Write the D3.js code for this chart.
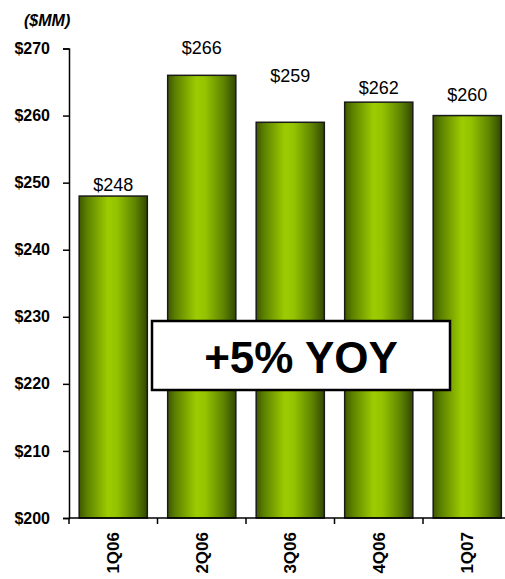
<!DOCTYPE html>
<html>
<head>
<meta charset="utf-8">
<script src="https://cdn.jsdelivr.net/npm/d3@7"></script>
<style>
  html, body { margin: 0; padding: 0; background: #fff; }
  svg { display: block; }
</style>
</head>
<body>
<svg id="chart" width="505" height="579"></svg>
<script>
// Quarterly revenue, $MM
const quarters = ["1Q06", "2Q06", "3Q06", "4Q06", "1Q07"];
const revenue = [248, 266, 259, 262, 260];
const yTicks = [200, 210, 220, 230, 240, 250, 260, 270];
const unitLabel = "($MM)";
const callout = "+5% YOY";

// extra lift (px) for each value label above its bar
const labelLift = [1, 17, 36, 4, 11];

const svg = d3.select("#chart");
const font = "'Liberation Sans', Arial, sans-serif";

const x = d3.scaleBand().domain(quarters).range([69, 511.5]).paddingInner(0.23).paddingOuter(0.115);
const y = d3.scaleLinear().domain([200, 270]).range([518, 48.5]);

// bar fill: cylinder-like horizontal shading
const grad = svg.append("defs").append("linearGradient")
  .attr("id", "barFill").attr("x1", "0%").attr("x2", "100%").attr("y1", "0%").attr("y2", "0%");
[["0%", "#3e5800"], ["12%", "#5d8200"], ["42%", "#9ccc00"], ["55%", "#94c400"], ["82%", "#5e8400"], ["100%", "#324800"]]
  .forEach(([o, c]) => grad.append("stop").attr("offset", o).attr("stop-color", c));

// bars
svg.append("g").selectAll("rect").data(quarters).join("rect")
  .attr("x", d => x(d))
  .attr("y", (d, i) => y(revenue[i]))
  .attr("width", x.bandwidth())
  .attr("height", (d, i) => y(200) - y(revenue[i]))
  .attr("fill", "url(#barFill)")
  .attr("stroke", "#1a1a1a")
  .attr("stroke-width", 1.5);

// value labels
svg.append("g").selectAll("text").data(quarters).join("text")
  .attr("x", d => x(d) + x.bandwidth() / 2)
  .attr("y", (d, i) => y(revenue[i]) - 4 - labelLift[i])
  .attr("text-anchor", "middle")
  .attr("font-family", font)
  .attr("font-size", 18)
  .attr("fill", "#000")
  .text((d, i) => "$" + revenue[i]);

// y axis
const yAxis = svg.append("g").attr("transform", "translate(69,0)")
  .call(d3.axisLeft(y).tickValues(yTicks).tickSize(6).tickPadding(13).tickFormat(d => "$" + d));
yAxis.select(".domain").attr("stroke", "#000").attr("stroke-width", 1.5);
yAxis.selectAll(".tick line").attr("stroke", "#000").attr("stroke-width", 1.5);
yAxis.selectAll(".tick text")
  .attr("font-family", font).attr("font-size", 16).attr("font-weight", "bold").attr("fill", "#000");

// x axis with ticks at category boundaries
const xAxisG = svg.append("g").attr("transform", "translate(0,518)");
xAxisG.append("line")
  .attr("x1", 69).attr("x2", 511.5).attr("y1", 0).attr("y2", 0)
  .attr("stroke", "#000").attr("stroke-width", 1.5);
const step = x.step();
xAxisG.selectAll("line.tk").data(d3.range(quarters.length + 1)).join("line")
  .attr("class", "tk")
  .attr("x1", i => 69 + i * step).attr("x2", i => 69 + i * step)
  .attr("y1", 0).attr("y2", 6)
  .attr("stroke", "#000").attr("stroke-width", 1.5);
xAxisG.selectAll("text").data(quarters).join("text")
  .attr("transform", d => `translate(${x(d) + x.bandwidth() / 2 + 6},${14}) rotate(-90)`)
  .attr("text-anchor", "end")
  .attr("font-family", font).attr("font-size", 17).attr("font-weight", "bold").attr("fill", "#000")
  .text(d => d);

// unit label
svg.append("text")
  .attr("x", 24).attr("y", 26)
  .attr("font-family", font).attr("font-size", 16).attr("font-weight", "bold").attr("font-style", "italic")
  .text(unitLabel);

// growth callout box
const box = svg.append("g");
box.append("rect")
  .attr("x", 152).attr("y", 321).attr("width", 298).attr("height", 69)
  .attr("fill", "#fff").attr("stroke", "#000").attr("stroke-width", 2.5);
box.append("text")
  .attr("x", 301).attr("y", 373)
  .attr("text-anchor", "middle")
  .attr("font-family", font).attr("font-size", 44).attr("font-weight", "bold")
  .text(callout);
</script>
</body>
</html>
